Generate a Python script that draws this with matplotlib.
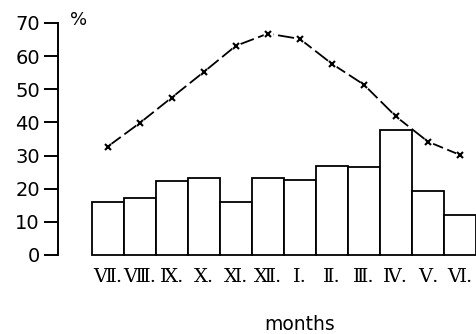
import matplotlib
matplotlib.use('Agg')
import matplotlib.pyplot as plt
import numpy as np

# monthly values, July through June
months = ['Ⅶ.', 'Ⅷ.', 'Ⅸ.', 'Ⅹ.', 'Ⅺ.', 'Ⅻ.',
          'Ⅰ.', 'Ⅱ.', 'Ⅲ.', 'Ⅳ.', 'Ⅴ.', 'Ⅵ.']
bar_values = [16.1, 17.3, 22.4, 23.3, 16.0, 23.2,
              22.5, 27.0, 26.5, 37.8, 19.3, 12.1]
line_values = [32.7, 39.8, 47.5, 55.2, 63.1, 66.8,
               65.2, 57.7, 51.4, 41.8, 34.2, 30.2]
y_ticks = [0, 10, 20, 30, 40, 50, 60, 70]

fig = plt.figure(figsize=(4.76, 3.34), dpi=100)
ax = fig.add_axes([58 / 476, 79 / 334, 418 / 476, 232 / 334])

x = np.arange(len(months))
ax.bar(x, bar_values, width=1.0, facecolor='white', edgecolor='black',
       linewidth=1.3, clip_on=False)

# dashed curve with small gaps around each cross
ax.plot(x, line_values, color='black', linewidth=1.3,
        linestyle=(0, (9, 2.5)), clip_on=False, zorder=3)
ax.plot(x, line_values, linestyle='none', marker='o', markersize=6,
        markerfacecolor='white', markeredgecolor='white', clip_on=False,
        zorder=4)
ax.plot(x, line_values, linestyle='none', marker='x', markersize=5,
        markeredgewidth=1.5, color='black', clip_on=False, zorder=5)

ax.set_xlim(-1.55, 11.5)
ax.set_ylim(0, 70)

for side in ['top', 'right', 'bottom']:
    ax.spines[side].set_visible(False)
ax.spines['left'].set_linewidth(1.4)
ax.spines['left'].set_bounds(0, 70)

ax.set_yticks(y_ticks)
ax.tick_params(axis='y', direction='out', length=10, width=1.4,
               labelsize=14, pad=3)
ax.set_xticks(x)
ax.set_xticklabels(months, family=['DejaVu Serif', 'DejaVu Sans'],
                   fontsize=14)
ax.tick_params(axis='x', length=0, pad=9)

ax.text(70 / 476, 1 - 20 / 334, '%', transform=fig.transFigure,
        fontsize=13, ha='left', va='center')
ax.text(300 / 476, 1 - 325 / 334, 'months', transform=fig.transFigure,
        fontsize=13.5, ha='center', va='center')

fig.savefig('out.png', dpi=100)
